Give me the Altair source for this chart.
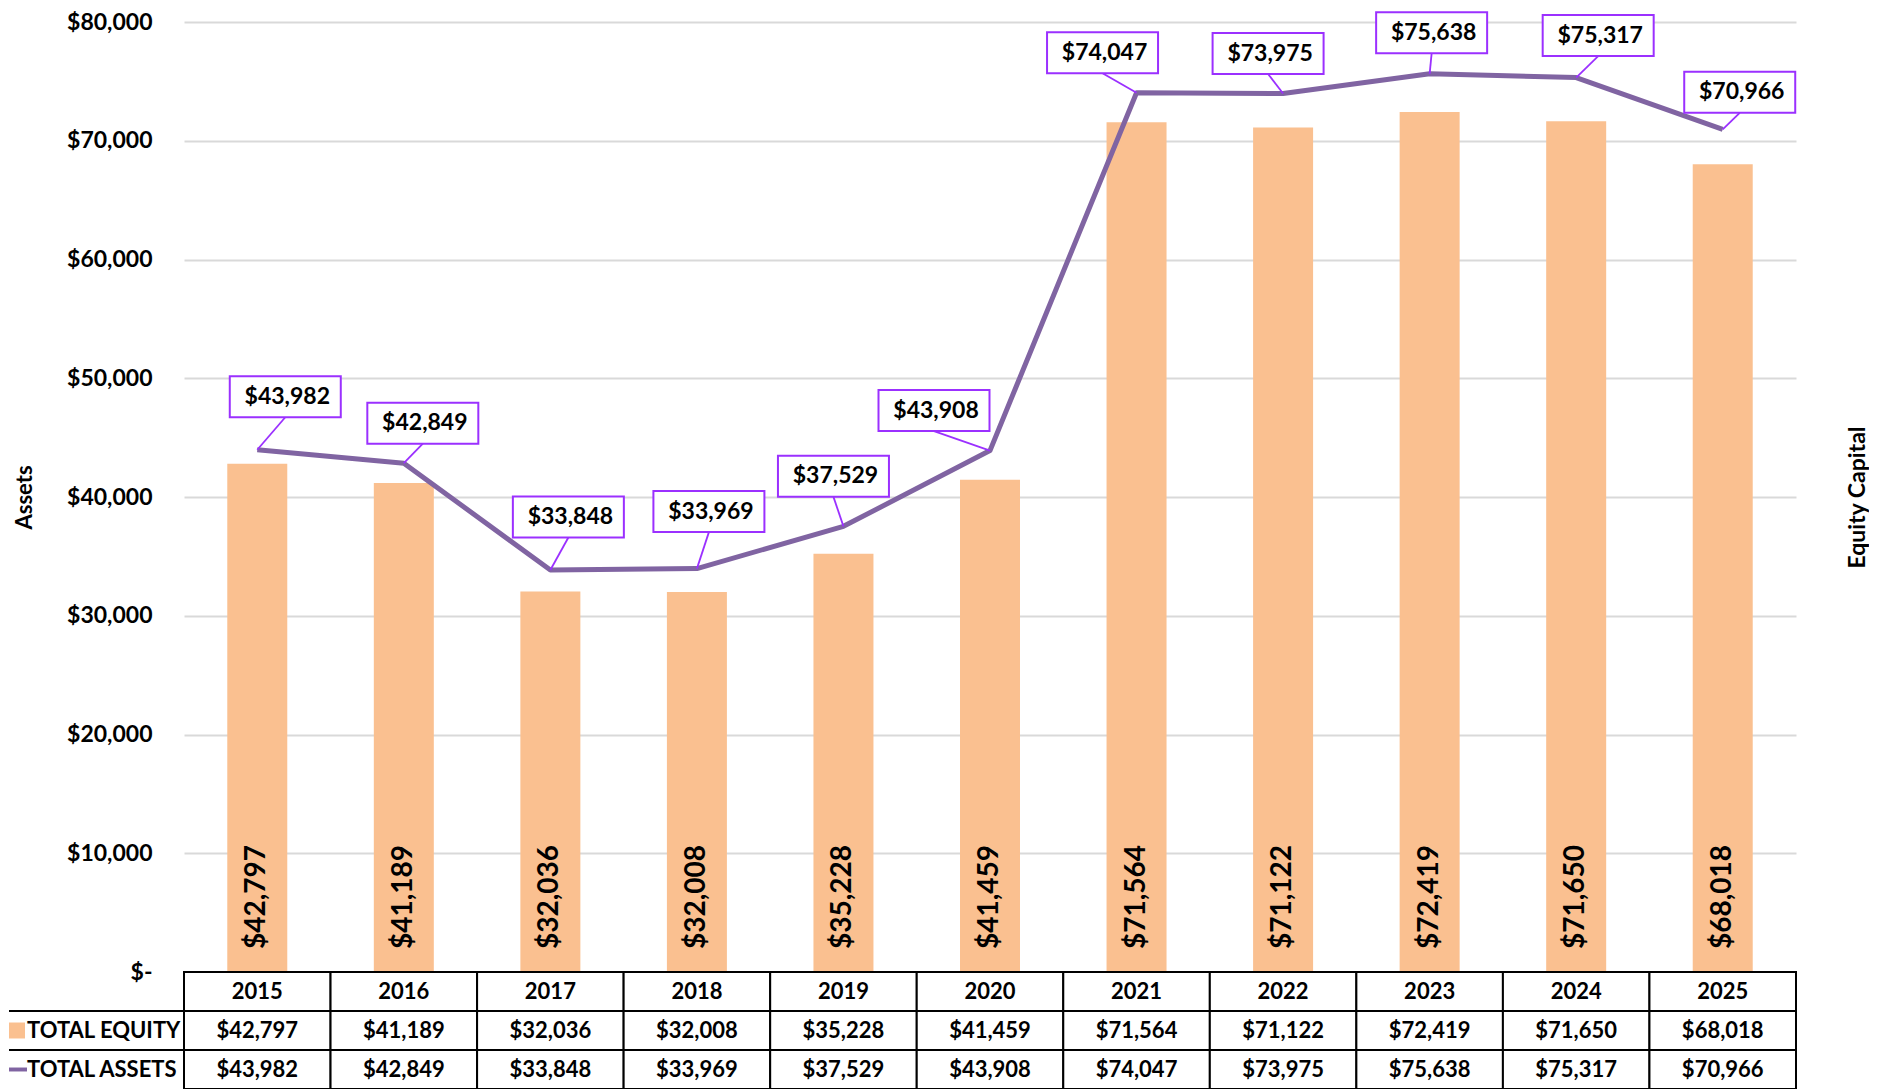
import altair as alt
import pandas as pd

# ---------------- data ----------------
years = ["2015", "2016", "2017", "2018", "2019", "2020", "2021", "2022", "2023", "2024", "2025"]
total_equity = [42797, 41189, 32036, 32008, 35228, 41459, 71564, 71122, 72419, 71650, 68018]
total_assets = [43982, 42849, 33848, 33969, 37529, 43908, 74047, 73975, 75638, 75317, 70966]
row_names = ["TOTAL EQUITY", "TOTAL ASSETS"]
y_ticks = [0, 10000, 20000, 30000, 40000, 50000, 60000, 70000, 80000]

# label callout placement (pixel offsets of the callout box centre from its point)
label_dx = [28, 19, 18, 12, -10, -56, -34, -15, 2, 22, 17]
label_dy = [-53, -40, -53, -57, -50, -40, -40, -40, -41, -42, -37]

# ---------------- style ----------------
FONT = "Lato"
W, H = 1612, 950
Y_MAX = 80000
BAND = W / len(years)
LEFT_W = 175
ROW_H = 39
BAR_COLOR = "#FAC090"
LINE_COLOR = "#8064A2"
BOX_COLOR = "#9B30FF"
BOX_W, BOX_H = 111, 41
GRID_COLOR = "#D9D9D9"
PX = Y_MAX / H  # dollars per pixel on the y scale


def money(v):
    return "$" + f"{v:,}"


df = pd.DataFrame({
    "year": years,
    "equity": total_equity,
    "assets": total_assets,
    "dx": label_dx,
    "dy": label_dy,
})
df["equity_label"] = [money(v) for v in total_equity]
df["assets_label"] = [money(v) for v in total_assets]

# leader lines: from the point (k=0) to the bottom centre of the callout box (k=1)
lead_rows = []
for yr, a, dx, dy in zip(years, total_assets, label_dx, label_dy):
    lead_rows.append({"year": yr, "assets": a, "dx": 0, "dy": 0, "k": 0})
    lead_rows.append({"year": yr, "assets": a, "dx": dx, "dy": dy + BOX_H / 2, "k": 1})
lead_df = pd.DataFrame(lead_rows)

x_scale = alt.Scale(domain=years, paddingInner=0, paddingOuter=0)
X = alt.X("year:O", scale=x_scale, axis=None)
y_scale = alt.Scale(domain=[0, Y_MAX], nice=False, zero=True)

base = alt.Chart(df)

# ---- bars (right "Equity Capital" axis) ----
bars = base.mark_bar(size=60, color=BAR_COLOR).encode(
    x=X,
    y=alt.Y(
        "equity:Q",
        scale=y_scale,
        axis=alt.Axis(
            orient="right", title="Equity Capital", labels=False, ticks=False,
            domain=False, grid=False, titleAngle=270, titlePadding=73,
            titleFontSize=23, titleFontWeight="bold", titleFont=FONT, titleColor="black",
        ),
    ),
)
bar_labels = base.mark_text(
    angle=270, align="left", baseline="middle", fontSize=28, fontWeight="bold",
    font=FONT, color="black", yOffset=-23,
).encode(x=X, y=alt.datum(0), text="equity_label:N")
bar_group = alt.layer(bars, bar_labels)

# ---- line + callouts (left "Assets" axis) ----
label_expr = "datum.value == 0 ? '$-\u00a0\u00a0\u00a0' : '$' + format(datum.value, ',')"
Y_assets = alt.Y(
    "assets:Q",
    scale=y_scale,
    axis=alt.Axis(
        title="Assets", values=y_ticks, labelExpr=label_expr, grid=True,
        gridColor=GRID_COLOR, gridWidth=2, ticks=False, domain=False,
        labelPadding=32, labelFontSize=23, labelFontWeight="bold", labelFont=FONT,
        labelColor="black", titlePadding=30, titleFontSize=22, titleFontWeight="bold",
        titleFont=FONT, titleColor="black",
    ),
)
line = base.mark_line(color=LINE_COLOR, strokeWidth=5, strokeJoin="round").encode(x=X, y=Y_assets)

Y_label = alt.Y("ly:Q", scale=y_scale)
XO = alt.XOffset("ox:Q", scale=None)
callout_calc = dict(
    ox=f"datum.dx + {BAND / 2}",
    ly=f"datum.assets - datum.dy * {PX}",
)

leaders = alt.Chart(lead_df).transform_calculate(**callout_calc).mark_line(
    color=BOX_COLOR, strokeWidth=1.8
).encode(x=X, y=Y_label, xOffset=XO, detail="year:N", order="k:Q")

box_path = "M-1,-%.4fL1,-%.4fL1,%.4fL-1,%.4fZ" % ((BOX_H / BOX_W,) * 4)
boxes = base.transform_calculate(**callout_calc).mark_point(
    shape=box_path, size=BOX_W ** 2, filled=False, fill="white", fillOpacity=1,
    stroke=BOX_COLOR, strokeWidth=2, opacity=1,
).encode(x=X, y=Y_label, xOffset=XO)
box_text = base.transform_calculate(**callout_calc).mark_text(
    fontSize=23, fontWeight="bold", font=FONT, color="black", align="center", baseline="middle",
    dx=2,
).encode(x=X, y=Y_label, xOffset=XO, text="assets_label:N")
line_group = alt.layer(line, leaders, boxes, box_text)

plot = alt.layer(bar_group, line_group).resolve_scale(y="independent").properties(width=W, height=H)

# ---- data table under the plot ----
rows_domain = ["hdr"] + row_names
tab_rows = []
for yr, e, a in zip(years, total_equity, total_assets):
    tab_rows.append({"year": yr, "row": "hdr", "txt": yr})
    tab_rows.append({"year": yr, "row": "TOTAL EQUITY", "txt": money(e)})
    tab_rows.append({"year": yr, "row": "TOTAL ASSETS", "txt": money(a)})
tab_df = pd.DataFrame(tab_rows)
Y_row = alt.Y("row:N", scale=alt.Scale(domain=rows_domain, paddingInner=0, paddingOuter=0), axis=None)

cells = alt.Chart(tab_df).mark_rect(fill="white", stroke="black", strokeWidth=2).encode(x=X, y=Y_row)
cell_text = alt.Chart(tab_df).mark_text(
    fontSize=22, fontWeight="bold", font=FONT, color="black", align="center", baseline="middle",
).encode(x=X, y=Y_row, text="txt:N")
grid_table = alt.layer(cells, cell_text).properties(width=W, height=ROW_H * 3)

left_df = pd.DataFrame({"row": row_names})
left_lines = alt.Chart(left_df).mark_rule(color="black", strokeWidth=2, yOffset=-ROW_H / 2).encode(
    x=alt.value(0), x2=alt.value(LEFT_W), y=Y_row,
)
left_text = alt.Chart(left_df).mark_text(
    fontSize=22, fontWeight="bold", font=FONT, color="black", align="left", baseline="middle",
).encode(x=alt.value(18), y=Y_row, text="row:N")
sw_eq = alt.Chart(left_df).transform_filter(alt.datum.row == "TOTAL EQUITY").mark_point(
    shape="square", size=16 ** 2, filled=True, color=BAR_COLOR, opacity=1, strokeWidth=0,
).encode(x=alt.value(8), y=Y_row)
sw_as = alt.Chart(left_df).transform_filter(alt.datum.row == "TOTAL ASSETS").mark_point(
    shape="M-1,-0.22L1,-0.22L1,0.22L-1,0.22Z", size=18 ** 2, filled=True, color=LINE_COLOR,
    opacity=1, strokeWidth=0,
).encode(x=alt.value(9), y=Y_row)
left_table = alt.layer(left_lines, left_text, sw_eq, sw_as).properties(width=LEFT_W, height=ROW_H * 3)

spacer = alt.Chart(pd.DataFrame({"a": [0]})).mark_point(opacity=0).encode(
    x=alt.value(LEFT_W / 2), y=alt.value(H / 2)
).properties(width=LEFT_W, height=H)

chart = alt.concat(
    spacer, plot, left_table, grid_table, columns=2, spacing=0, bounds="flush", align="each",
).properties(padding=0).configure(font=FONT).configure_view(stroke=None)

chart.save("out.html", embed_options={"renderer": "svg", "actions": False})
